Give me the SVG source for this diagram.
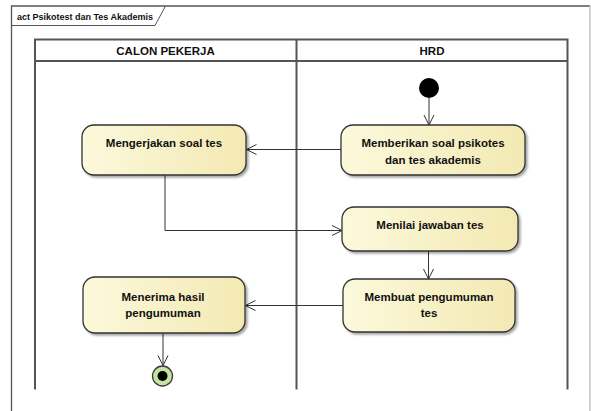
<svg xmlns="http://www.w3.org/2000/svg" width="591" height="411" viewBox="0 0 591 411">
<defs>
<linearGradient id="nodeFill" x1="0" y1="0" x2="1" y2="0">
<stop offset="0" stop-color="#fcf9dc"/>
<stop offset="1" stop-color="#f3e9b3"/>
</linearGradient>
<marker id="open" viewBox="0 0 12 12" refX="11" refY="6" markerWidth="12" markerHeight="12" markerUnits="userSpaceOnUse" orient="auto">
<path d="M1,1 L11,6 L1,11" fill="none" stroke="#333" stroke-width="1"/>
</marker>
<filter id="sh" x="-10%" y="-10%" width="130%" height="140%">
<feGaussianBlur in="SourceAlpha" stdDeviation="1.2"/>
<feOffset dx="2" dy="2" result="b"/>
<feComponentTransfer><feFuncA type="linear" slope="0.35"/></feComponentTransfer>
<feMerge><feMergeNode/><feMergeNode in="SourceGraphic"/></feMerge>
</filter>
</defs>
<style>
.t{font-family:"Liberation Sans",Arial,sans-serif;font-weight:bold;font-size:11.5px;fill:#111;text-anchor:middle}
.node{fill:url(#nodeFill);stroke:#333;stroke-width:1.3;filter:url(#sh)}
.lane{fill:none;stroke:#555;stroke-width:2}
.edge{fill:none;stroke:#333;stroke-width:1;marker-end:url(#open)}
</style>
<rect width="591" height="411" fill="#fff"/>
<g id="frame">
<path d="M11.5,411 L11.5,6 L590,6" fill="none" stroke="#555" stroke-width="1.3"/>
<line x1="590" y1="6" x2="590" y2="411" stroke="#bbb" stroke-width="1.3"/>
<path d="M11.5,25.5 L155,25.5 L165.5,6" fill="none" stroke="#555" stroke-width="1"/>
<text x="17" y="19.5" style="font-family:'Liberation Sans',Arial,sans-serif;font-weight:bold;font-size:9px;fill:#111">act Psikotest dan Tes Akademis</text>
</g>
<g id="lanes">
<path class="lane" d="M35,389.5 L35,39.5 L567.5,39.5 L567.5,389.5"/>
<line class="lane" x1="35" y1="61" x2="567.5" y2="61"/>
<line class="lane" x1="296.5" y1="39.5" x2="296.5" y2="389.5"/>
<text class="t" x="165.5" y="54.5">CALON PEKERJA</text>
<text class="t" x="432" y="54.5">HRD</text>
</g>
<g id="connectors">
<line class="edge" x1="429" y1="98" x2="429" y2="125"/>
<line class="edge" x1="341" y1="149.5" x2="246.5" y2="149.5"/>
<polyline class="edge" points="165,175 165,230.5 342,230.5"/>
<line class="edge" x1="428.5" y1="251" x2="428.5" y2="279"/>
<line class="edge" x1="343" y1="305.5" x2="245.5" y2="305.5"/>
<line class="edge" x1="163" y1="333" x2="163" y2="365.5"/>
</g>
<g id="start">
<circle cx="429" cy="88" r="10" fill="#000"/>
</g>
<g id="n1">
<rect class="node" x="82" y="125" width="164" height="50" rx="12"/>
<text class="t" x="164" y="147">Mengerjakan soal tes</text>
</g>
<g id="n2">
<rect class="node" x="341" y="125" width="184" height="50" rx="12"/>
<text class="t" x="433" y="147">Memberikan soal psikotes</text>
<text class="t" x="433" y="163.5">dan tes akademis</text>
</g>
<g id="n3">
<rect class="node" x="342" y="207" width="176" height="44" rx="12"/>
<text class="t" x="430" y="229">Menilai jawaban tes</text>
</g>
<g id="n4">
<rect class="node" x="343" y="279" width="172" height="53" rx="12"/>
<text class="t" x="429" y="301">Membuat pengumuman</text>
<text class="t" x="429" y="317">tes</text>
</g>
<g id="n5">
<rect class="node" x="83" y="277" width="162" height="56" rx="12"/>
<text class="t" x="163" y="301">Menerima hasil</text>
<text class="t" x="163" y="317">pengumuman</text>
</g>
<g id="end">
<circle cx="162.5" cy="376" r="10" fill="#c6e3a4" stroke="#3a3a3a" stroke-width="1.3"/>
<circle cx="162.5" cy="376" r="5" fill="#000"/>
</g>
</svg>
